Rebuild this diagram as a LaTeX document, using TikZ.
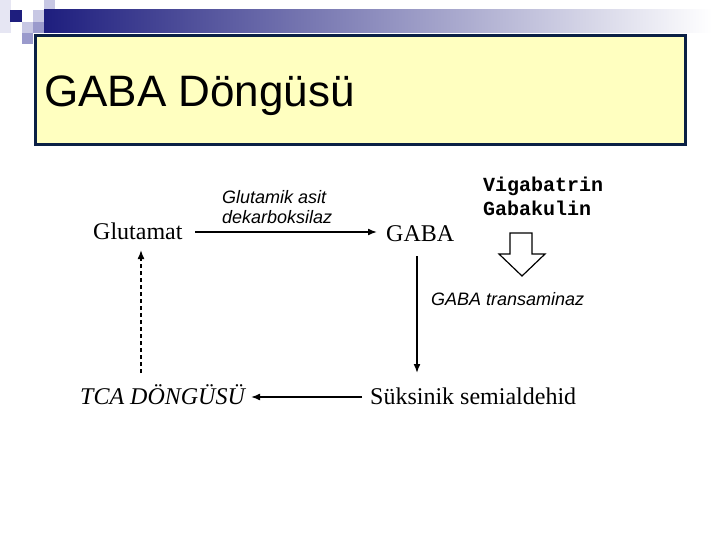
\documentclass[tikz,border=0pt]{standalone}
\usepackage{fontspec}
\setmainfont{Liberation Serif}
\setsansfont{Liberation Sans}
\setmonofont{Liberation Mono}
\usetikzlibrary{arrows.meta}
\definecolor{navy}{HTML}{1E1E7E}
\definecolor{lav}{HTML}{9A9ACC}
\definecolor{lavlight}{HTML}{C8C8E4}
\definecolor{lavpale}{HTML}{E6E6F3}
\definecolor{boxborder}{HTML}{0B2045}
\definecolor{boxfill}{HTML}{FFFFC0}
\tikzset{
  serif/.style={inner sep=0pt, anchor=base west, font=\fontsize{24}{28}\selectfont\rmfamily},
  enzyme/.style={inner sep=0pt, anchor=base west, font=\fontsize{18}{20}\selectfont\sffamily\itshape},
  flow/.style={line width=1.6pt, -{Latex[length=9pt,width=7pt]}},
}
\begin{document}
\begin{tikzpicture}[x=1pt,y=-1pt]
\useasboundingbox (0,0) rectangle (720,540);
% decoration
\fill[lavpale] (0,0) rectangle (11,33);
\fill[navy] (10,10) rectangle (22,22);
\fill[lavlight] (44,0) rectangle (55,10);
\fill[lavlight] (33,10) rectangle (44,22);
\fill[lavlight] (22,22) rectangle (33,33);
\fill[lav] (33,22) rectangle (44,33);
\fill[lav] (22,33) rectangle (33,44);
\shade[left color=navy, right color=white] (44,10) rectangle (712,33);
% title box
\draw[boxborder, fill=boxfill, line width=3pt] (35,36) rectangle (685,145);
\node[anchor=base west, inner sep=0pt, font=\fontsize{44}{50}\selectfont\sffamily] (title) at (44,107) {GABA Döngüsü};
% nodes
\node[serif] (glu) at (93,240) {Glutamat};
\node[serif] (gaba) at (386,241) {GABA};
\node[serif] (suk) at (370,404) {Süksinik semialdehid};
\node[serif, font=\fontsize{24}{28}\selectfont\rmfamily\itshape] (tca) at (80,404) {TCA DÖNGÜSÜ};
\node[enzyme, align=left, anchor=base west] (gad) at (222,223) {Glutamik asit\\dekarboksilaz};
\node[enzyme] (gabat) at (431,305) {GABA transaminaz};
\node[inner sep=0pt, anchor=base west, align=left, font=\fontsize{20}{24}\selectfont\ttfamily\bfseries] (vig) at (483,215) {Vigabatrin\\Gabakulin};
% connectors
\coordinate (a1) at (195,232);
\coordinate (a2) at (377,232);
\draw[flow] (a1) -- (a2);
\coordinate (b1) at (417,256);
\coordinate (b2) at (417,373);
\draw[flow] (b1) -- (b2);
\coordinate (c1) at (362,397);
\coordinate (c2) at (251,397);
\draw[flow] (c1) -- (c2);
\coordinate (d1) at (141,373);
\coordinate (d2) at (141,250);
\draw[flow, dash pattern=on 4.5pt off 2.5pt] (d1) -- (d2);
% hollow arrow
\draw[line width=1.2pt, fill=white] (510,233) -- (532,233) -- (532,254) -- (545,254) -- (522,276) -- (499,254) -- (510,254) -- cycle;
\end{tikzpicture}
\end{document}
